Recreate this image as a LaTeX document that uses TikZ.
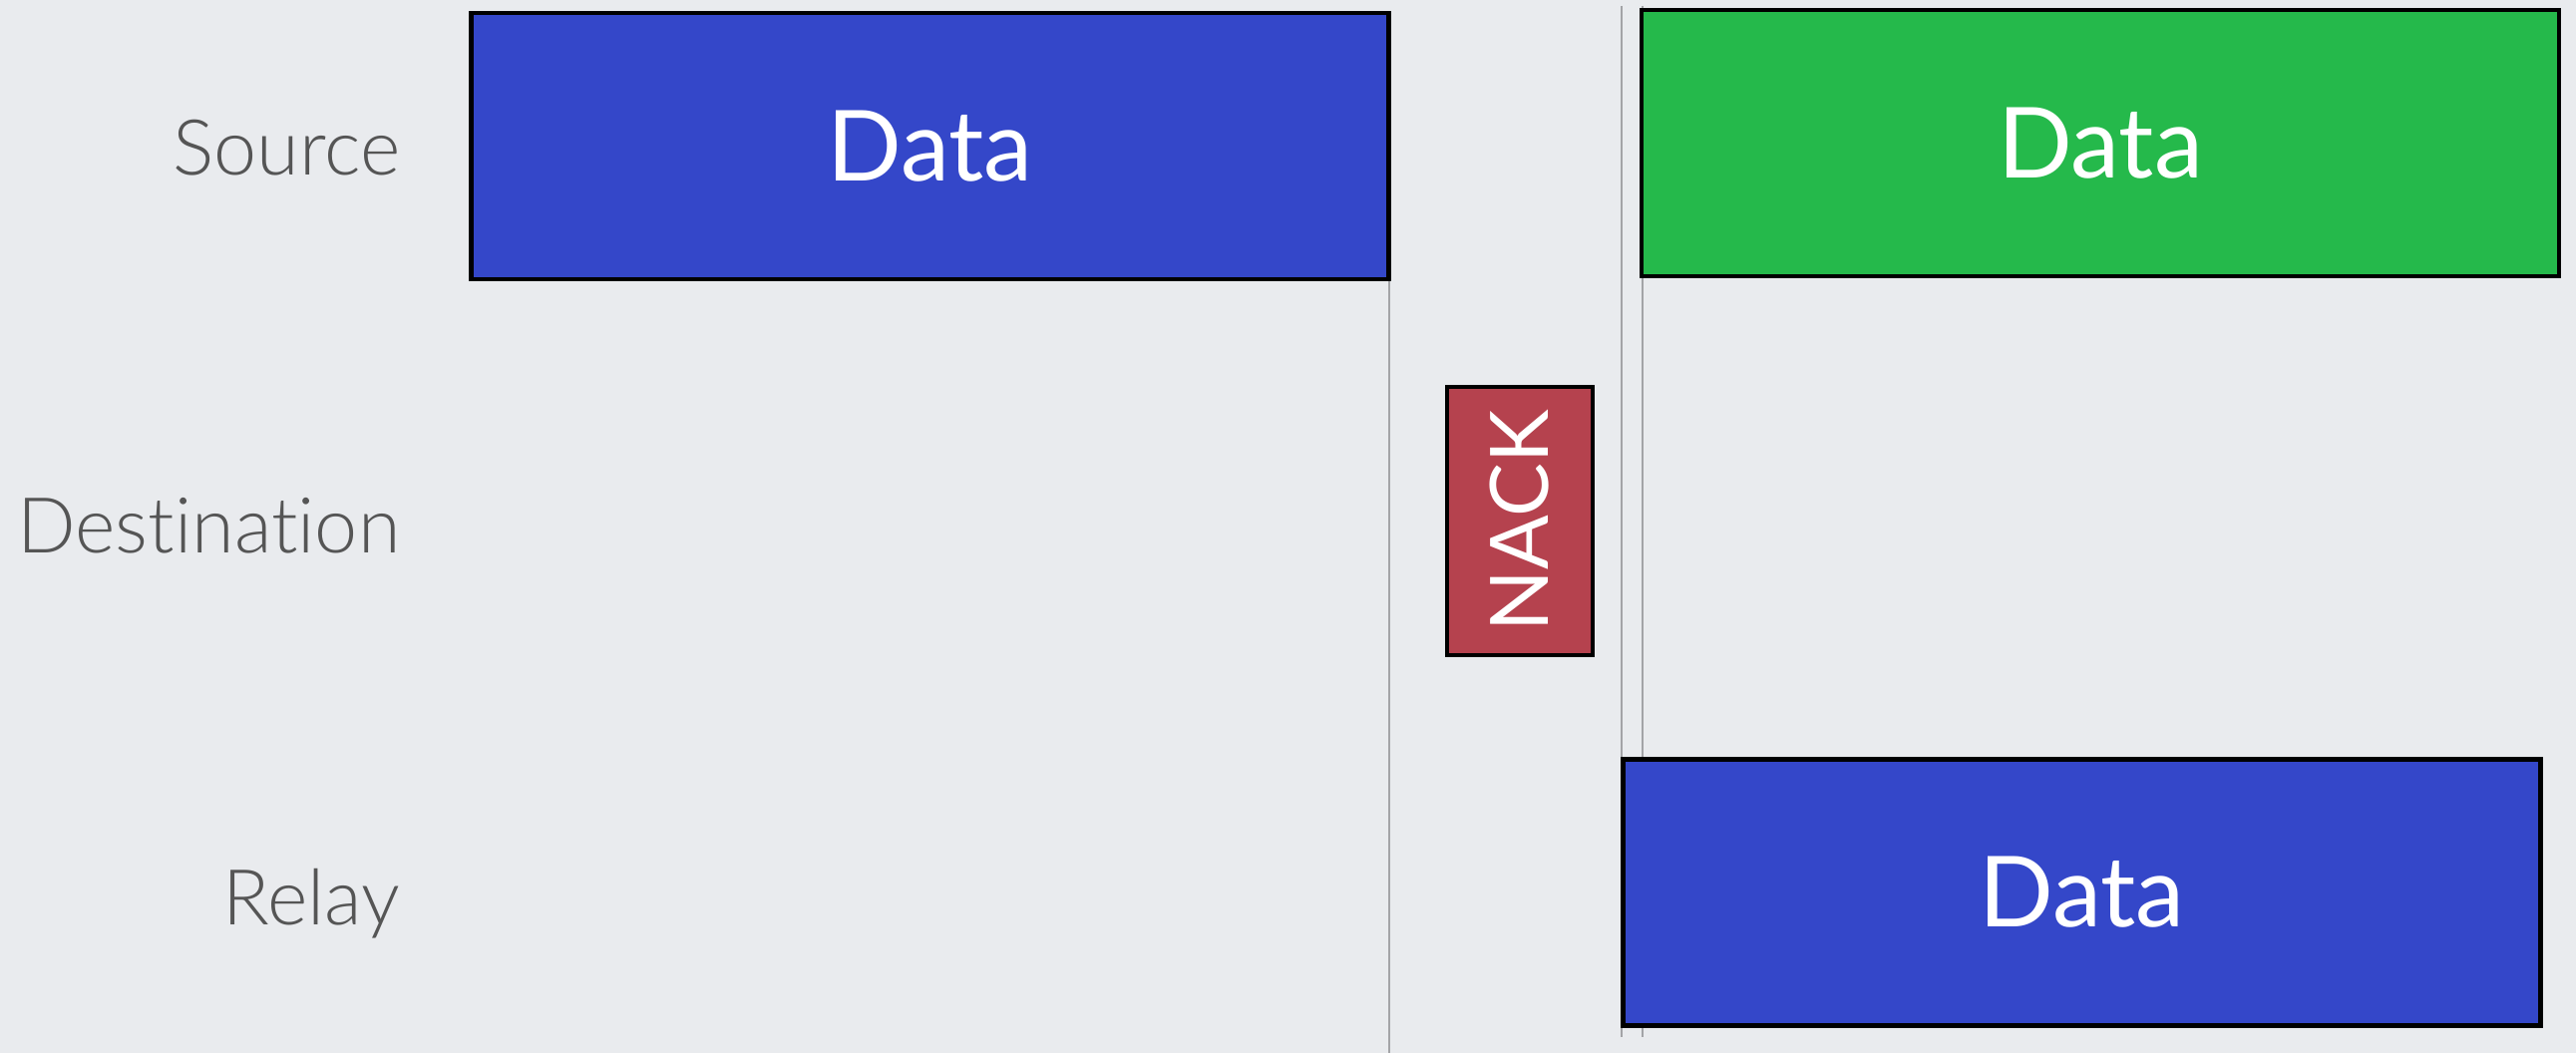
\documentclass[tikz,border=0pt]{standalone}
\usepackage{fontspec}
\setmainfont{Lato}[Ligatures=NoCommon]
\newfontfamily\lanefont{Lato Light}[Ligatures=NoCommon]
\usepackage{xcolor}
\usepackage{tikz}
\usetikzlibrary{
  positioning,
  calc,
}
\definecolor{pagebg}{HTML}{E9EBEE}
\definecolor{ink}{HTML}{555555}
\definecolor{rule}{HTML}{A3A4A7}
\definecolor{srcblue}{HTML}{3447C9}
\definecolor{okgreen}{HTML}{25B94B}
\definecolor{nackred}{HTML}{B5424E}
\tikzset{
  lane/.style={font=\lanefont\fontsize{22}{26}\selectfont, text=ink,
    anchor=base east, inner sep=0pt},
  packet/.style={
    draw=black,
    fill=#1,
    line width=1.4pt,
    minimum width=9.2cm,
    minimum height=2.67cm,
    inner sep=0pt,
    text=white,
    font=\fontsize{28}{32}\selectfont,
  },
  ctrl/.style={
    draw=black,
    fill=nackred,
    line width=1.4pt,
    minimum width=1.46cm,
    minimum height=2.69cm,
    inner sep=0pt,
  },
  slot/.style={draw=rule, line width=0.6pt},
}

\begin{document}
\begin{tikzpicture}[x=1cm,y=1cm]
  \fill[pagebg] (0,0) rectangle (25.83,10.56);
  \useasboundingbox (0,0) rectangle (25.83,10.56);

  % Row labels
  \node[lane] (lsrc) at (4.02,8.80) {Source};
  \node[lane] (ldst) at (4.02,5.01) {Destination};
  \node[lane] (lrly) at (4.02,1.29) {Relay};

  % Slot boundaries
  \coordinate (s1top) at (13.93,7.76);
  \coordinate (s1bot) at (13.93,0);
  \coordinate (s2top) at (16.26,10.50);
  \coordinate (s2bot) at (16.26,0.16);
  \coordinate (s3top) at (16.47,10.50);
  \coordinate (s3bot) at (16.47,0.16);
  \draw[slot] (s1top) -- (s1bot);
  \draw[slot] (s2top) -- (s2bot);
  \draw[slot] (s3top) -- (s3bot);

  % First slot: source sends
  \node[packet=srcblue] (txsrc) at (9.325,9.095) {Data};

  % Destination answers
  \node[ctrl] (nack) at (15.24,5.335)
    {\rotatebox{90}{\textcolor{white}{\fontsize{23}{27}\selectfont NACK}}};

  % Second slot: source and relay send again
  \node[packet=okgreen] (retx) at (21.06,9.125) {Data};
  \node[packet=srcblue] (txrly) at (20.875,1.61) {Data};
\end{tikzpicture}
\end{document}
